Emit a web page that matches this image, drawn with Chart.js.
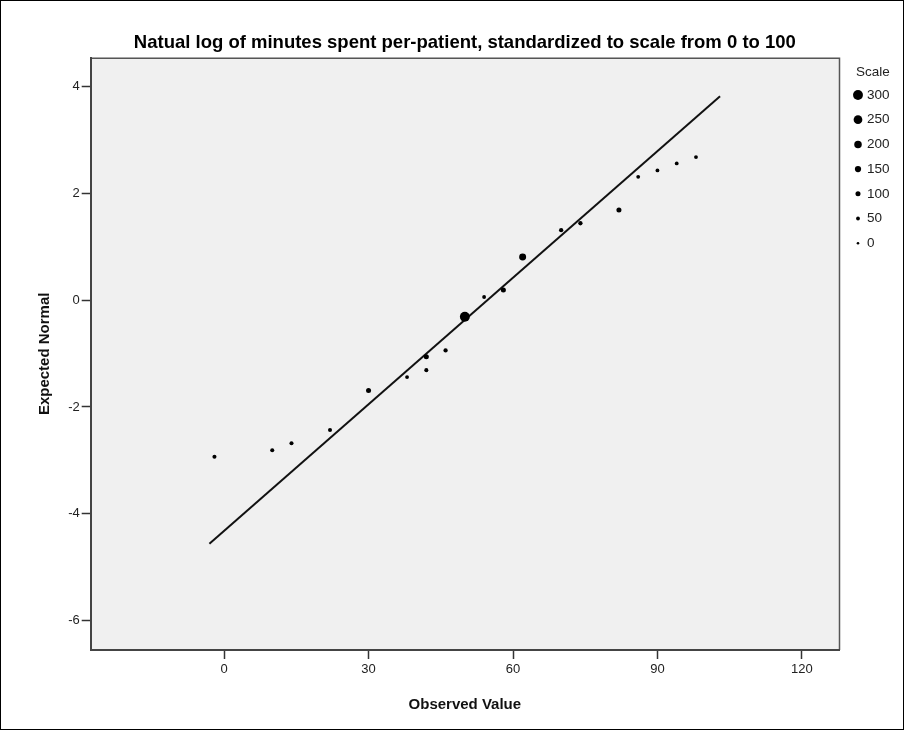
<!DOCTYPE html>
<html><head><meta charset="utf-8">
<script src="https://cdn.jsdelivr.net/npm/chart.js@4"></script>
<style>html,body{margin:0;padding:0;background:#fff}#wrap{width:904px;height:730px;position:relative}</style>
</head><body><div id="wrap"><canvas id="c" width="904" height="730"></canvas></div>
<script>
const observedValues = [-2, 10, 14, 22, 30, 38, 42, 42, 46, 50, 54, 58, 62, 70, 74, 82, 86, 90, 94, 98];
const expectedNormal = [-2.93, -2.81, -2.68, -2.43, -1.69, -1.44, -1.31, -1.06, -0.94, -0.31, 0.06, 0.19, 0.81, 1.31, 1.44, 1.69, 2.31, 2.43, 2.56, 2.68];
const scaleCounts = [60, 60, 60, 60, 100, 50, 60, 100, 70, 300, 50, 100, 180, 70, 70, 100, 50, 50, 50, 50];
const refLineX = [-3.05, 103.0];
const refLineY = [-4.56, 3.82];
const xTickValues = [0, 30, 60, 90, 120];
const yTickValues = [-6, -4, -2, 0, 2, 4];
const legendValues = [300, 250, 200, 150, 100, 50, 0];
const legendTitle = 'Scale';
const chartTitle = 'Natual log of minutes spent per-patient, standardized to scale from 0 to 100';

const FONT = "'Liberation Sans', Arial, sans-serif";
const radiusFor = c => 1.3 + c * 0.0122;

const decor = {
  id: 'decor',
  beforeDraw(chart) {
    const {ctx, chartArea: a} = chart;
    ctx.save();
    ctx.fillStyle = '#fff';
    ctx.fillRect(0, 0, chart.width, chart.height);
    ctx.fillStyle = '#f0f0f0';
    ctx.fillRect(a.left, a.top, a.right - a.left, a.bottom - a.top);
    ctx.strokeStyle = '#555';
    ctx.lineWidth = 1.5;
    ctx.beginPath();
    ctx.moveTo(a.left, a.top + 0.5);
    ctx.lineTo(a.right + 0.5, a.top + 0.5);
    ctx.lineTo(a.right + 0.5, a.bottom);
    ctx.stroke();
    ctx.restore();
  },
  afterDraw(chart) {
    const {ctx} = chart;
    ctx.save();
    ctx.strokeStyle = '#000';
    ctx.lineWidth = 1;
    ctx.strokeRect(0.5, 0.5, chart.width - 1, chart.height - 1);
    ctx.fillStyle = '#222';
    ctx.font = '13.5px ' + FONT;
    ctx.textBaseline = 'middle';
    ctx.textAlign = 'left';
    ctx.fillText(legendTitle, 856, 72);
    legendValues.forEach((v, i) => {
      const y = 95 + i * 24.7;
      ctx.fillStyle = '#000';
      ctx.beginPath();
      ctx.arc(858, y, radiusFor(v), 0, Math.PI * 2);
      ctx.fill();
      ctx.fillStyle = '#222';
      ctx.fillText(String(v), 867, y);
    });
    ctx.restore();
  }
};

const tickFont = {family: FONT, size: 13};
const titleFont = {family: FONT, size: 15, weight: 'bold'};

new Chart(document.getElementById('c'), {
  data: {
    datasets: [
      {
        type: 'scatter',
        data: observedValues.map((x, i) => ({x: x, y: expectedNormal[i]})),
        pointRadius: scaleCounts.map(radiusFor),
        backgroundColor: '#000',
        borderWidth: 0,
        pointBorderWidth: 0
      },
      {
        type: 'line',
        data: refLineX.map((x, i) => ({x: x, y: refLineY[i]})),
        borderColor: '#111',
        borderWidth: 2,
        pointRadius: 0,
        fill: false
      }
    ]
  },
  options: {
    responsive: false,
    animation: false,
    events: [],
    layout: {padding: {left: 0, right: 65, top: 0, bottom: 0}},
    plugins: {
      legend: {display: false},
      tooltip: {enabled: false},
      title: {
        display: true,
        fullSize: false,
        text: chartTitle,
        color: '#000',
        font: {family: FONT, size: 18.5, weight: 'bold'},
        padding: {top: 32, bottom: 3.5}
      }
    },
    scales: {
      x: {
        type: 'linear',
        min: -27.7,
        max: 127.7,
        afterBuildTicks: s => { s.ticks = xTickValues.map(v => ({value: v})); },
        afterFit: s => { s.height = 80; },
        grid: {drawOnChartArea: false, drawTicks: true, tickLength: 9, tickColor: '#333', tickWidth: 1.5},
        border: {display: true, color: '#444', width: 2},
        ticks: {font: tickFont, color: '#222', padding: 3, maxRotation: 0},
        title: {display: true, text: 'Observed Value', color: '#111', font: titleFont, padding: {top: 0, bottom: 16}}
      },
      y: {
        type: 'linear',
        min: -6.55,
        max: 4.54,
        afterBuildTicks: s => { s.ticks = yTickValues.map(v => ({value: v})); },
        afterFit: s => { s.width = 90.7; },
        grid: {drawOnChartArea: false, drawTicks: true, tickLength: 9, tickColor: '#333', tickWidth: 1.5},
        border: {display: true, color: '#444', width: 2},
        ticks: {font: tickFont, color: '#222', padding: 2},
        title: {display: true, text: 'Expected Normal', color: '#111', font: titleFont, padding: {top: 36, bottom: 0}}
      }
    }
  },
  plugins: [decor]
});
</script>
</body></html>
